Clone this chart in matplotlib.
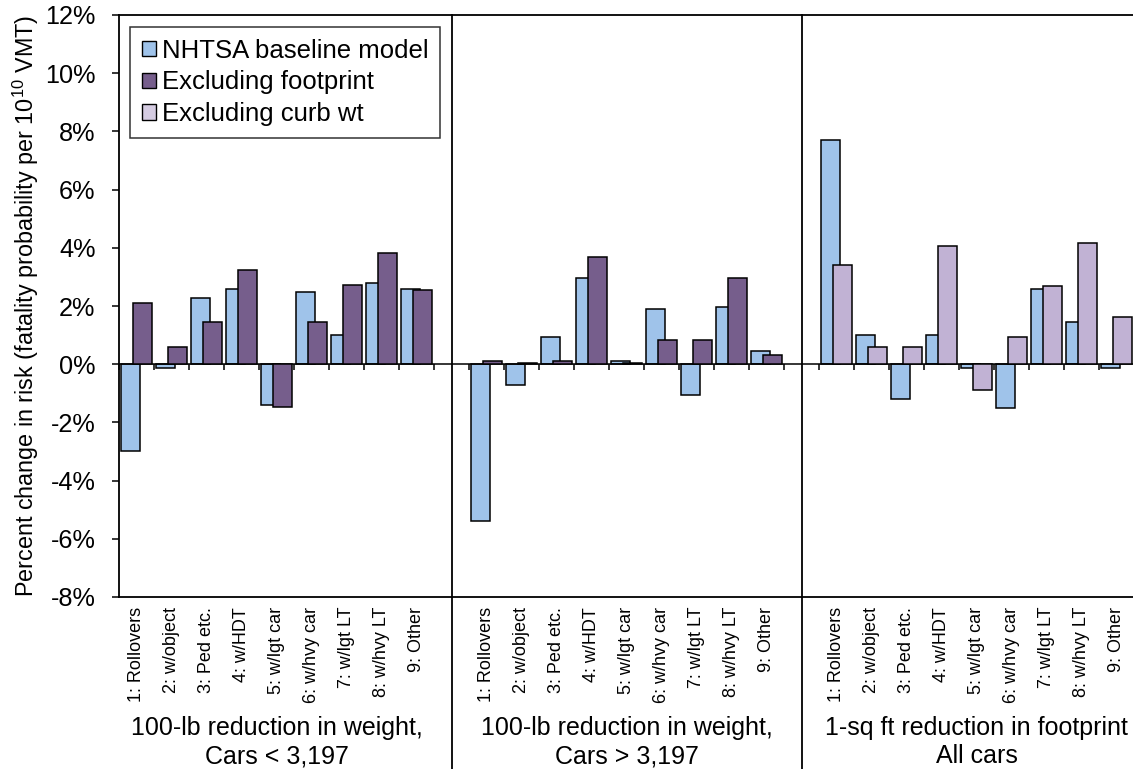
import matplotlib
matplotlib.use("Agg")
import matplotlib.pyplot as plt
import matplotlib.transforms as mtransforms
from matplotlib.patches import Patch
import numpy as np

plt.rcParams['font.family'] = ['Liberation Sans', 'DejaVu Sans']
plt.rcParams['mathtext.fontset'] = 'custom'
plt.rcParams['mathtext.rm'] = 'Liberation Sans'
plt.rcParams['mathtext.it'] = 'Liberation Sans:italic'
plt.rcParams['mathtext.bf'] = 'Liberation Sans:bold'

# ---- data ----
categories = ["1: Rollovers", "2: w/object", "3: Ped etc.", "4: w/HDT", "5: w/lgt car",
              "6: w/hvy car", "7: w/lgt LT", "8: w/hvy LT", "9: Other"]
panel_titles = ["100-lb reduction in weight,\nCars < 3,197",
                "100-lb reduction in weight,\nCars > 3,197",
                "1-sq ft reduction in footprint\nAll cars"]
series_names = ["NHTSA baseline model", "Excluding footprint", "Excluding curb wt"]

baseline_light = [-2.97, -0.13, 2.27, 2.59, -1.39, 2.47, 1.00, 2.79, 2.59]
excl_fp_light = [2.09, 0.58, 1.46, 3.24, -1.46, 1.46, 2.73, 3.81, 2.54]
baseline_heavy = [-5.40, -0.70, 0.94, 2.97, 0.12, 1.90, -1.07, 1.97, 0.44]
excl_fp_heavy = [0.12, 0.05, 0.12, 3.67, 0.05, 0.82, 0.82, 2.97, 0.30]
baseline_fp = [7.72, 1.01, -1.20, 1.01, -0.13, -1.52, 2.59, 1.46, -0.13]
excl_cw_fp = [3.42, 0.59, 0.59, 4.06, -0.88, 0.93, 2.68, 4.17, 1.63]

y_ticks = [-8, -6, -4, -2, 0, 2, 4, 6, 8, 10, 12]

# ---- style ----
c_blue = "#9FC3EA"
c_dark = "#765E8C"
c_light = "#C1B2D4"

panels = [
    (baseline_light, excl_fp_light, c_dark),
    (baseline_heavy, excl_fp_heavy, c_dark),
    (baseline_fp, excl_cw_fp, c_light),
]

fig = plt.figure(figsize=(11.33, 7.69), dpi=100)
ax = fig.add_axes([119/1133, 1 - 597/769, 1015/1133, 582/769])

n = len(categories)
step = n + 1
bw = 0.545
off = 0.16
for p, (s1, s2, col2) in enumerate(panels):
    x = np.arange(n) + p * step
    ax.bar(x - off, s1, width=bw, color=c_blue, edgecolor="black", linewidth=1.1, zorder=2)
    ax.bar(x + off, s2, width=bw, color=col2, edgecolor="black", linewidth=1.1, zorder=3)

total = 3 * n + 2
ax.set_xlim(-0.5, total - 0.5)
ax.set_ylim(-8, 12)
ax.set_yticks(y_ticks)
ax.set_yticklabels([f"{v}%" for v in y_ticks])
ax.tick_params(axis="y", direction="out", length=5, width=1.1, labelsize=18.2, pad=12)

# category axis at zero
ax.spines["bottom"].set_position(("data", 0))
ax.spines["bottom"].set_linewidth(1.1)
ax.set_xticks(np.arange(total + 1) - 0.5)
ax.set_xticklabels([])
ax.tick_params(axis="x", direction="out", length=4, width=1.1)
for s in ["left", "top", "right"]:
    ax.spines[s].set_linewidth(1.3)
ax.plot([0, 1], [0, 0], transform=ax.transAxes, color="black", lw=1.3, clip_on=False, zorder=5)

# separators between panels
trans_fig = mtransforms.blended_transform_factory(ax.transData, fig.transFigure)
top_fig = 1 - 15/769
for p in range(1, 3):
    xs = p * step - 1
    ax.plot([xs, xs], [0, top_fig], transform=trans_fig, color="black", lw=1.3, clip_on=False, zorder=5)

# category labels and panel titles
trans_lab = mtransforms.blended_transform_factory(ax.transData, ax.transAxes)
for p in range(3):
    for i, lab in enumerate(categories):
        ax.text(i + p * step, -0.017, lab, rotation=90, ha="center", va="top",
                fontsize=13, transform=trans_lab)
    ax.text(p * step + (n - 1) / 2, -0.205, panel_titles[p], ha="center", va="top",
            fontsize=18, linespacing=1.2, transform=trans_lab, multialignment="center")

ax.set_ylabel("Percent change in risk (fatality probability per 10$^{10}$ VMT)", fontsize=16.8, labelpad=3)

handles = [Patch(facecolor=c_blue, edgecolor="black", linewidth=1.0),
           Patch(facecolor=c_dark, edgecolor="black", linewidth=1.0),
           Patch(facecolor="#D5CCE2", edgecolor="black", linewidth=1.0)]
leg = ax.legend(handles, series_names, loc="upper left", bbox_to_anchor=(0.0108, 0.979),
                fontsize=18.5, frameon=True, fancybox=False, edgecolor="black",
                handlelength=0.55, handleheight=0.55, handletextpad=0.23, labelspacing=0.3,
                borderpad=0.45, borderaxespad=0)
leg.get_frame().set_linewidth(1.1)
leg.set_zorder(10)

fig.savefig("out.png", dpi=100)
